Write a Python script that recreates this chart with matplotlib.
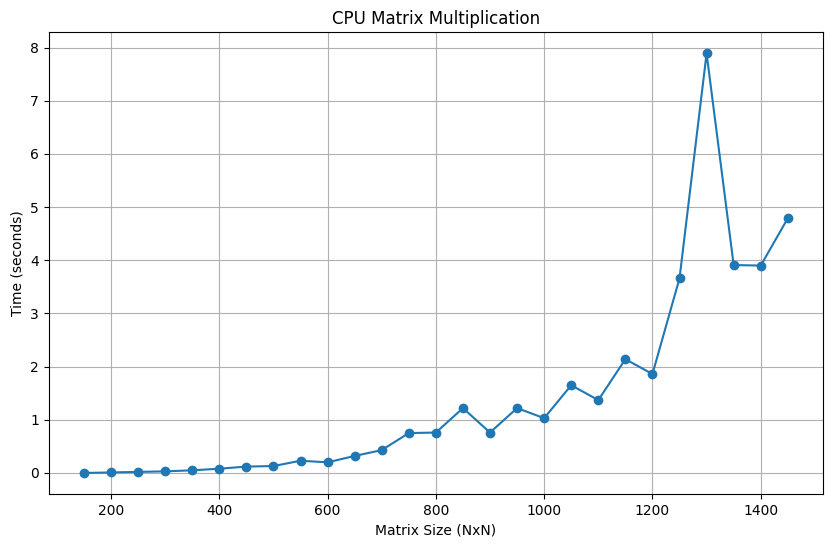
import matplotlib.pyplot as plt

sizes = [150, 200, 250, 300, 350, 400, 450, 500, 550, 600, 650, 700, 750, 800,
         850, 900, 950, 1000, 1050, 1100, 1150, 1200, 1250, 1300, 1350, 1400, 1450]
times = [0.0, 0.01, 0.02, 0.03, 0.05, 0.08, 0.12, 0.13, 0.23, 0.20, 0.32, 0.43, 0.75, 0.76,
         1.22, 0.76, 1.22, 1.03, 1.65, 1.37, 2.14, 1.86, 3.66, 7.89, 3.91, 3.90, 4.79]

fig = plt.figure(figsize=(8.33, 5.47), dpi=100)
ax = fig.add_axes([0.0585, 0.097, 0.9295, 0.8437])

ax.plot(sizes, times, marker="o")
ax.set_title("CPU Matrix Multiplication")
ax.set_xlabel("Matrix Size (NxN)")
ax.set_ylabel("Time (seconds)")
ax.grid(True)

plt.savefig("out.png")
plt.close()
